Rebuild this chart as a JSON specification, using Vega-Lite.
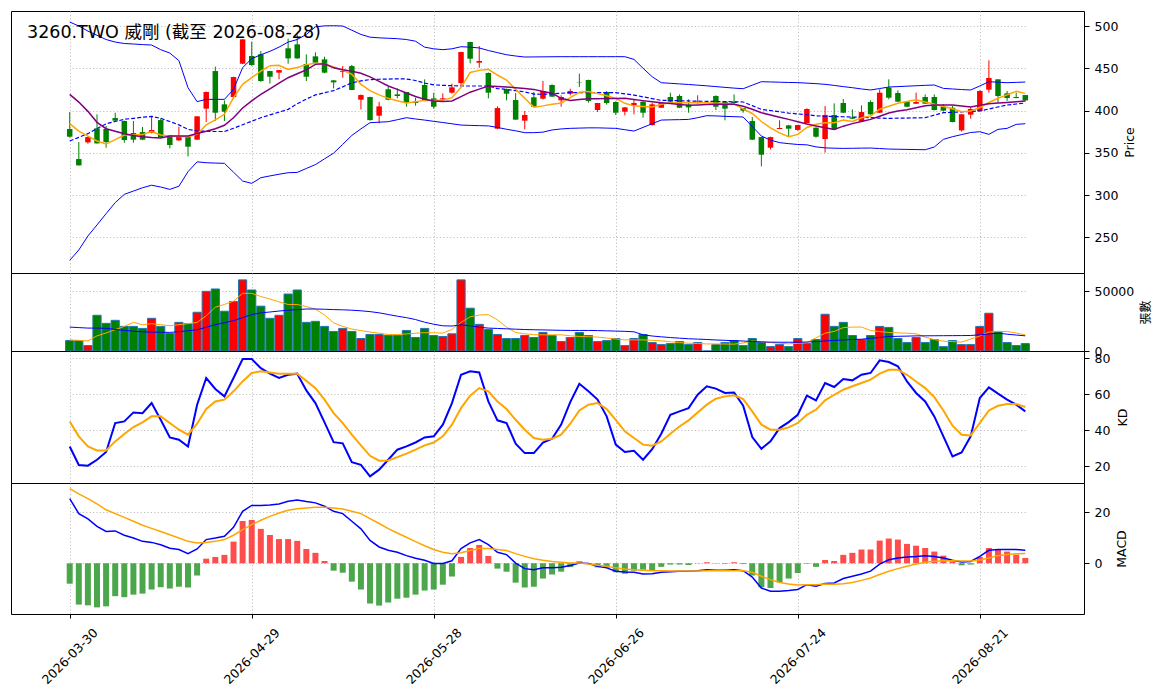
{
  "$schema": "https://vega.github.io/schema/vega-lite/v6.json",
  "padding": {"left": 10, "top": 10, "right": 0, "bottom": 0},
  "autosize": {"type": "pad"},
  "background": "white",
  "spacing": 0,
  "bounds": "flush",
  "datasets": {
    "stock": [
      {"d":"2026-03-30","o":378.1,"h":398.2,"l":368,"c":369,"v":8708,"m5":384.4,"m10":419.1,"m20":363.9,"up":504.7,"lo":222.7,"vm5":9270,"vm20":19944,"k":30.9,"dv":44.8,"hist":-8,"dif":25.4,"dea":29.3},
      {"d":"2026-03-31","o":342.6,"h":362.7,"l":335,"c":335.1,"v":8708,"m5":375.7,"m10":410,"m20":368.2,"up":500,"lo":235,"vm5":8850,"vm20":19500,"k":20.6,"dv":36.5,"hist":-16.2,"dif":19.5,"dea":27.2},
      {"d":"2026-04-01","o":362.3,"h":369,"l":360.7,"c":368.6,"v":4494,"m5":369.8,"m10":399,"m20":372.6,"up":494,"lo":251.5,"vm5":8427,"vm20":19101,"k":20.2,"dv":30.9,"hist":-16.5,"dif":17.4,"dea":25.4},
      {"d":"2026-04-02","o":378.9,"h":395.5,"l":361,"c":361.1,"v":29775,"m5":364,"m10":386,"m20":378.7,"up":489,"lo":264.6,"vm5":12640,"vm20":19101,"k":23.5,"dv":28.7,"hist":-17.3,"dif":14.5,"dea":23.3},
      {"d":"2026-04-07","o":378.1,"h":381.6,"l":356,"c":362.7,"v":23034,"m5":360.5,"m10":378.5,"m20":384.2,"up":484,"lo":278,"vm5":15000,"vm20":18900,"k":27.8,"dv":28.7,"hist":-16.9,"dif":12.5,"dea":21},
      {"d":"2026-04-08","o":391.1,"h":397.4,"l":386.8,"c":388,"v":25562,"m5":365.5,"m10":375.5,"m20":387,"up":481,"lo":291,"vm5":17800,"vm20":18000,"k":43.9,"dv":33.7,"hist":-12.9,"dif":12.7,"dea":19.5},
      {"d":"2026-04-09","o":387.6,"h":388,"l":361.9,"c":365.1,"v":20506,"m5":371,"m10":372.4,"m20":389.6,"up":479.3,"lo":300.8,"vm5":20506,"vm20":17135,"k":44.8,"dv":37.8,"hist":-13.3,"dif":11,"dea":18},
      {"d":"2026-04-10","o":373.4,"h":387.6,"l":361.9,"c":365.5,"v":20506,"m5":371,"m10":370.5,"m20":390.8,"up":478.7,"lo":304.7,"vm5":23877,"vm20":16500,"k":49.8,"dv":41.7,"hist":-12.3,"dif":9.9,"dea":16.5},
      {"d":"2026-04-13","o":374.5,"h":380.5,"l":365,"c":365.5,"v":18820,"m5":371.5,"m10":368.9,"m20":392,"up":478,"lo":308.6,"vm5":21910,"vm20":16000,"k":49.4,"dv":44.3,"hist":-11.9,"dif":8.6,"dea":14.9},
      {"d":"2026-04-14","o":373.4,"h":392.3,"l":373,"c":376.9,"v":27247,"m5":375,"m10":368,"m20":393.1,"up":477.5,"lo":311.6,"vm5":22753,"vm20":15700,"k":55,"dv":47.6,"hist":-10.3,"dif":8.2,"dea":13.7},
      {"d":"2026-04-15","o":388.7,"h":390.7,"l":368,"c":368.2,"v":20506,"m5":371,"m10":367.5,"m20":390.7,"up":472,"lo":309.5,"vm5":21910,"vm20":15600,"k":45.7,"dv":47.6,"hist":-9.4,"dif":7.3,"dea":12.5},
      {"d":"2026-04-16","o":370.6,"h":371,"l":355.2,"c":359.2,"v":14607,"m5":369.8,"m10":369.8,"m20":387,"up":468,"lo":306.7,"vm5":21068,"vm20":15500,"k":35.9,"dv":43.9,"hist":-9.9,"dif":5.9,"dea":11.2},
      {"d":"2026-04-17","o":364.7,"h":380.9,"l":364,"c":369.8,"v":23877,"m5":369.4,"m10":369.8,"m20":383,"up":459,"lo":310.4,"vm5":21910,"vm20":16100,"k":34.6,"dv":40.2,"hist":-9.2,"dif":5.4,"dea":9.9},
      {"d":"2026-04-20","o":368.6,"h":369,"l":345.7,"c":357.2,"v":22753,"m5":369,"m10":369.8,"m20":377.7,"up":427,"lo":327.6,"vm5":22753,"vm20":16854,"k":30.9,"dv":37.4,"hist":-9.5,"dif":3.8,"dea":8.6},
      {"d":"2026-04-21","o":365.5,"h":393.5,"l":365,"c":393.1,"v":32304,"m5":372,"m10":372.8,"m20":375.8,"up":410.5,"lo":339.3,"vm5":23877,"vm20":17700,"k":54.1,"dv":43.5,"hist":-4.8,"dif":5.6,"dea":8},
      {"d":"2026-04-22","o":402.2,"h":422.5,"l":386.4,"c":421.9,"v":49719,"m5":383,"m10":375.5,"m20":375.5,"up":413.2,"lo":338.2,"vm5":29300,"vm20":19800,"k":68.9,"dv":51.7,"hist":1.8,"dif":9.3,"dea":8.2},
      {"d":"2026-04-23","o":446.7,"h":451.9,"l":387.6,"c":397.4,"v":51686,"m5":389,"m10":378.5,"m20":375.2,"up":413.2,"lo":337.8,"vm5":36500,"vm20":21910,"k":62.8,"dv":55.9,"hist":2.5,"dif":9.9,"dea":8.6},
      {"d":"2026-04-24","o":407.3,"h":412,"l":387.6,"c":398.6,"v":33146,"m5":395.5,"m10":382.5,"m20":375.2,"up":413.2,"lo":337.5,"vm5":38764,"vm20":23600,"k":58.7,"dv":56.9,"hist":3.3,"dif":10.6,"dea":9.3},
      {"d":"2026-04-27","o":415.9,"h":440,"l":415,"c":439.6,"v":41292,"m5":415.2,"m10":391.5,"m20":379,"up":425,"lo":327,"vm5":41573,"vm20":25281,"k":68.9,"dv":61.5,"hist":8.5,"dif":14.1,"dea":11},
      {"d":"2026-04-28","o":455.4,"h":484.5,"l":455,"c":484.2,"v":59270,"m5":431,"m10":403,"m20":383.2,"up":450.7,"lo":316.6,"vm5":48034,"vm20":27800,"k":79.4,"dv":67,"hist":16.6,"dif":20.4,"dea":13.2},
      {"d":"2026-04-29","o":464.5,"h":481.5,"l":453,"c":453.8,"v":50843,"m5":438.8,"m10":411.5,"m20":387.3,"up":461.3,"lo":313.8,"vm5":48034,"vm20":30337,"k":79.4,"dv":71.7,"hist":17,"dif":22.7,"dea":15.2},
      {"d":"2026-04-30","o":466.5,"h":470.4,"l":434,"c":434.9,"v":37360,"m5":446.5,"m10":419.1,"m20":391.5,"up":466,"lo":320.5,"vm5":45400,"vm20":31800,"k":74.4,"dv":72.6,"hist":13.5,"dif":22.7,"dea":16.9},
      {"d":"2026-05-04","o":446.7,"h":447,"l":431.8,"c":440,"v":27247,"m5":453,"m10":425.7,"m20":394.8,"up":470,"lo":322.6,"vm5":43300,"vm20":32500,"k":71.3,"dv":72,"hist":11.1,"dif":22.9,"dea":18.4},
      {"d":"2026-05-05","o":444.8,"h":448,"l":436.9,"c":447.9,"v":29775,"m5":453.5,"m10":432.3,"m20":398.1,"up":475,"lo":324.6,"vm5":41000,"vm20":33300,"k":68.9,"dv":71.3,"hist":9.5,"dif":23.3,"dea":19.7},
      {"d":"2026-05-06","o":473.6,"h":485,"l":455.4,"c":461.7,"v":47472,"m5":448.7,"m10":438.8,"m20":401.4,"up":481,"lo":326.4,"vm5":38764,"vm20":33989,"k":70.7,"dv":71.3,"hist":9.5,"dif":24.3,"dea":20.8},
      {"d":"2026-05-07","o":478.3,"h":490,"l":461,"c":461.7,"v":50843,"m5":451,"m10":443.5,"m20":408,"up":484,"lo":326.8,"vm5":38764,"vm20":34500,"k":71.3,"dv":71.3,"hist":8.8,"dif":24.8,"dea":21.4},
      {"d":"2026-05-08","o":455,"h":466.5,"l":434.9,"c":440,"v":23877,"m5":454.3,"m10":448,"m20":413.5,"up":490,"lo":331.4,"vm5":37000,"vm20":35000,"k":62,"dv":67.3,"hist":5.6,"dif":24.2,"dea":21.7},
      {"d":"2026-05-11","o":464.1,"h":468.8,"l":455,"c":456.6,"v":24720,"m5":455.8,"m10":454.6,"m20":418.5,"up":499,"lo":336,"vm5":35000,"vm20":35000,"k":55,"dv":63.3,"hist":4.1,"dif":23.7,"dea":22},
      {"d":"2026-05-12","o":460.5,"h":463.7,"l":444,"c":444.8,"v":20506,"m5":455.4,"m10":455.4,"m20":421,"up":500.2,"lo":342.8,"vm5":30000,"vm20":34800,"k":44.3,"dv":56.9,"hist":0.9,"dif":22.4,"dea":22},
      {"d":"2026-05-13","o":435.7,"h":436,"l":426.2,"c":433.3,"v":16292,"m5":451.5,"m10":450.5,"m20":423.6,"up":500.3,"lo":349.6,"vm5":23500,"vm20":34500,"k":33.3,"dv":49.4,"hist":-2.9,"dif":20.4,"dea":21.7},
      {"d":"2026-05-14","o":445.5,"h":452.6,"l":438.8,"c":446.5,"v":18820,"m5":447.8,"m10":448.3,"m20":428,"up":500,"lo":360,"vm5":20500,"vm20":34300,"k":32.6,"dv":43.9,"hist":-3.7,"dif":19.5,"dea":21.3},
      {"d":"2026-05-15","o":452.6,"h":454,"l":424,"c":424.3,"v":16292,"m5":442.8,"m10":446.5,"m20":432.8,"up":495,"lo":370.5,"vm5":18300,"vm20":34000,"k":22.2,"dv":37.4,"hist":-7.2,"dif":16.5,"dea":20.4},
      {"d":"2026-05-18","o":412.8,"h":419,"l":401.4,"c":418.3,"v":10393,"m5":431,"m10":444,"m20":435,"up":490,"lo":378.3,"vm5":17000,"vm20":33500,"k":20.7,"dv":31.5,"hist":-10.3,"dif":13.5,"dea":19.5},
      {"d":"2026-05-19","o":416,"h":416.3,"l":388,"c":388.7,"v":13764,"m5":423.5,"m10":439.8,"m20":436.6,"up":486.8,"lo":385.6,"vm5":15800,"vm20":32800,"k":14.3,"dv":25.7,"hist":-15.8,"dif":9,"dea":17.5},
      {"d":"2026-05-20","o":393.9,"h":410.2,"l":384.8,"c":404.9,"v":13764,"m5":418.5,"m10":434.5,"m20":437,"up":486,"lo":386.2,"vm5":14800,"vm20":31800,"k":18,"dv":23,"hist":-16.6,"dif":6.4,"dea":15.6},
      {"d":"2026-05-21","o":425.1,"h":427.8,"l":412,"c":412.8,"v":12921,"m5":414.4,"m10":429,"m20":437.2,"up":485.5,"lo":386.8,"vm5":13700,"vm20":30400,"k":23.5,"dv":23.1,"hist":-15.4,"dif":5.1,"dea":13.6},
      {"d":"2026-05-22","o":419.1,"h":426.2,"l":414.4,"c":417.2,"v":12921,"m5":411.5,"m10":425,"m20":437.5,"up":485,"lo":389.1,"vm5":13700,"vm20":29000,"k":29.1,"dv":25,"hist":-13.9,"dif":4.3,"dea":11.9},
      {"d":"2026-05-25","o":421.9,"h":422,"l":404.5,"c":408.9,"v":17135,"m5":408.8,"m10":420.7,"m20":437.3,"up":484,"lo":391.5,"vm5":14200,"vm20":27800,"k":30.9,"dv":26.9,"hist":-13.5,"dif":3,"dea":10.2},
      {"d":"2026-05-26","o":410.5,"h":415.2,"l":405.7,"c":408.9,"v":11236,"m5":410.3,"m10":416.5,"m20":435.5,"up":482,"lo":390,"vm5":14800,"vm20":26200,"k":33.1,"dv":29.1,"hist":-12.3,"dif":2,"dea":8.5},
      {"d":"2026-05-27","o":430.2,"h":436.9,"l":411,"c":411.3,"v":18820,"m5":412,"m10":413.2,"m20":432.5,"up":475,"lo":388.7,"vm5":15300,"vm20":24000,"k":35.9,"dv":31.5,"hist":-10.7,"dif":1.2,"dea":6.9},
      {"d":"2026-05-28","o":414.4,"h":421.1,"l":402,"c":404.5,"v":12921,"m5":412,"m10":411.4,"m20":430.3,"up":473,"lo":387.2,"vm5":15200,"vm20":22300,"k":36.5,"dv":33.1,"hist":-10.3,"dif":-0.1,"dea":5.4},
      {"d":"2026-05-29","o":412.8,"h":420.3,"l":411,"c":414.4,"v":12079,"m5":412.3,"m10":410.7,"m20":429.8,"up":472,"lo":385.8,"vm5":14900,"vm20":21000,"k":43,"dv":36.5,"hist":-8.4,"dif":-0.1,"dea":4.3},
      {"d":"2026-06-01","o":421.1,"h":431.8,"l":420,"c":427.4,"v":14326,"m5":415.2,"m10":411.3,"m20":429.4,"up":473,"lo":384.3,"vm5":18000,"vm20":20800,"k":55,"dv":43,"hist":-5.2,"dif":1,"dea":3.7},
      {"d":"2026-06-02","o":432.5,"h":469.5,"l":430,"c":469.2,"v":59270,"m5":427.5,"m10":416.5,"m20":429,"up":475.5,"lo":382.8,"vm5":23877,"vm20":21800,"k":70.7,"dv":52.2,"hist":2.5,"dif":5.8,"dea":4.1},
      {"d":"2026-06-03","o":481.1,"h":481.5,"l":455.8,"c":461.3,"v":35674,"m5":445,"m10":421.7,"m20":429,"up":475,"lo":382.4,"vm5":28500,"vm20":21000,"k":72.6,"dv":59.1,"hist":6,"dif":8,"dea":5},
      {"d":"2026-06-04","o":456.6,"h":476.3,"l":450.7,"c":458.6,"v":22191,"m5":447.5,"m10":425.3,"m20":429,"up":474,"lo":382.1,"vm5":30000,"vm20":19800,"k":72,"dv":63.3,"hist":7.2,"dif":9.3,"dea":5.8},
      {"d":"2026-06-05","o":444.4,"h":445,"l":414.4,"c":421.1,"v":17978,"m5":448.7,"m10":429,"m20":429,"up":471,"lo":381.8,"vm5":30300,"vm20":19101,"k":55.9,"dv":61.5,"hist":2.9,"dif":7.3,"dea":5.8},
      {"d":"2026-06-08","o":378.5,"h":404.9,"l":378,"c":402.9,"v":13764,"m5":442,"m10":428.5,"m20":426,"up":468.5,"lo":380,"vm5":26000,"vm20":18800,"k":45.4,"dv":55.9,"hist":-2.1,"dif":4.3,"dea":5.4},
      {"d":"2026-06-09","o":425.1,"h":426,"l":412,"c":419.9,"v":10393,"m5":436,"m10":427.9,"m20":425,"up":466,"lo":377.8,"vm5":19900,"vm20":18500,"k":43.9,"dv":51.7,"hist":-3.3,"dif":3.4,"dea":5},
      {"d":"2026-06-10","o":412.4,"h":420.7,"l":389,"c":389.2,"v":10393,"m5":425.1,"m10":426.9,"m20":423.5,"up":464.5,"lo":376,"vm5":15400,"vm20":18200,"k":32.4,"dv":45.7,"hist":-7.6,"dif":0.1,"dea":3.8},
      {"d":"2026-06-11","o":388,"h":399.4,"l":377.7,"c":394.7,"v":12921,"m5":414.5,"m10":426,"m20":422,"up":463.3,"lo":373.8,"vm5":14300,"vm20":17900,"k":27.2,"dv":40.2,"hist":-9.5,"dif":-2.1,"dea":2.7},
      {"d":"2026-06-12","o":415.6,"h":421.9,"l":404,"c":404.5,"v":11236,"m5":404,"m10":425,"m20":419.5,"up":463.4,"lo":373.8,"vm5":13600,"vm20":17700,"k":27.2,"dv":35.6,"hist":-9.2,"dif":-2.5,"dea":1.8},
      {"d":"2026-06-15","o":414,"h":434.9,"l":413,"c":423.1,"v":15450,"m5":405.5,"m10":422.5,"m20":419.2,"up":463.5,"lo":374.4,"vm5":13500,"vm20":17550,"k":33.1,"dv":34.6,"hist":-6,"dif":-1.8,"dea":1.2},
      {"d":"2026-06-16","o":430.2,"h":431,"l":416,"c":416.4,"v":12921,"m5":407.3,"m10":420.5,"m20":419.8,"up":463.6,"lo":377,"vm5":13483,"vm20":17400,"k":35.2,"dv":35.2,"hist":-4.4,"dif":-1.8,"dea":0.7},
      {"d":"2026-06-17","o":412,"h":418,"l":404.5,"c":416,"v":7865,"m5":409,"m10":414.4,"m20":420.4,"up":463.7,"lo":378.2,"vm5":13483,"vm20":17250,"k":43,"dv":37.4,"hist":-3.3,"dif":-1.6,"dea":0.4},
      {"d":"2026-06-18","o":419.9,"h":425.8,"l":418,"c":423.1,"v":11236,"m5":415.2,"m10":412,"m20":421.1,"up":463.7,"lo":378.9,"vm5":12700,"vm20":17135,"k":55.5,"dv":43.5,"hist":-1.5,"dif":-0.9,"dea":0.1},
      {"d":"2026-06-22","o":433.7,"h":443.6,"l":427.8,"c":433.3,"v":15450,"m5":421.5,"m10":413,"m20":421.1,"up":463.7,"lo":379.2,"vm5":12100,"vm20":17135,"k":65.7,"dv":50.9,"hist":0.8,"dif":0.1,"dea":0.1},
      {"d":"2026-06-23","o":436.1,"h":436.5,"l":409.3,"c":411.3,"v":12921,"m5":422.5,"m10":413.8,"m20":421.1,"up":463.7,"lo":379.5,"vm5":11900,"vm20":17135,"k":61.5,"dv":54.1,"hist":-0.3,"dif":-0.1,"dea":-0.3},
      {"d":"2026-06-24","o":400.6,"h":409,"l":398.2,"c":408.9,"v":7865,"m5":420,"m10":414,"m20":421.1,"up":463.7,"lo":379.5,"vm5":11600,"vm20":17000,"k":56.9,"dv":55,"hist":-1.6,"dif":-1.2,"dea":-0.8},
      {"d":"2026-06-25","o":421.9,"h":423,"l":407,"c":408.9,"v":8708,"m5":417.5,"m10":414.2,"m20":421.1,"up":463.7,"lo":379.2,"vm5":10800,"vm20":16800,"k":47.6,"dv":51.7,"hist":-1.8,"dif":-1.8,"dea":-1.2},
      {"d":"2026-06-26","o":410.1,"h":411,"l":394.7,"c":397.4,"v":10393,"m5":414.4,"m10":414.3,"m20":421.1,"up":463.7,"lo":378.9,"vm5":10000,"vm20":16600,"k":31.9,"dv":45.7,"hist":-3.5,"dif":-3.1,"dea":-1.8},
      {"d":"2026-06-29","o":398.6,"h":404,"l":394.3,"c":403.7,"v":4494,"m5":408.5,"m10":414.4,"m20":419.7,"up":463.7,"lo":377.3,"vm5":9270,"vm20":16400,"k":27.8,"dv":39.3,"hist":-4.1,"dif":-3.4,"dea":-2.2},
      {"d":"2026-06-30","o":406.5,"h":413.2,"l":395.5,"c":408.9,"v":10393,"m5":405.5,"m10":413,"m20":418.3,"up":460.5,"lo":375.7,"vm5":9270,"vm20":16000,"k":28.5,"dv":35.6,"hist":-2.9,"dif":-3.5,"dea":-2.5},
      {"d":"2026-07-01","o":410.5,"h":411,"l":391.5,"c":397.4,"v":13764,"m5":404.8,"m10":411.7,"m20":416.2,"up":450,"lo":380,"vm5":9270,"vm20":13500,"k":23.5,"dv":31.9,"hist":-2.5,"dif":-4.2,"dea":-2.7},
      {"d":"2026-07-02","o":382.8,"h":409,"l":382,"c":407.3,"v":7022,"m5":404.1,"m10":410.5,"m20":414.1,"up":440,"lo":384.4,"vm5":8900,"vm20":12500,"k":29.4,"dv":31.3,"hist":-2.7,"dif":-4.1,"dea":-2.9},
      {"d":"2026-07-03","o":403.3,"h":410,"l":403,"c":409.3,"v":5337,"m5":407.5,"m10":409.3,"m20":412,"up":432.9,"lo":388.7,"vm5":8500,"vm20":11800,"k":38,"dv":33.7,"hist":-1.4,"dif":-3.5,"dea":-2.9},
      {"d":"2026-07-06","o":416,"h":421.1,"l":410,"c":410.5,"v":6180,"m5":409.3,"m10":408.2,"m20":411.8,"up":432.2,"lo":389,"vm5":7700,"vm20":11200,"k":48.5,"dv":38,"hist":-0.5,"dif":-3.3,"dea":-3},
      {"d":"2026-07-07","o":417.2,"h":419.1,"l":403,"c":403.3,"v":7865,"m5":409.3,"m10":407.2,"m20":411.6,"up":431.5,"lo":389.2,"vm5":7000,"vm20":10700,"k":50.4,"dv":42,"hist":-0.5,"dif":-3.1,"dea":-3},
      {"d":"2026-07-08","o":406.9,"h":413.2,"l":397.4,"c":403.7,"v":5337,"m5":409.3,"m10":406.1,"m20":411.3,"up":430.8,"lo":389.5,"vm5":6500,"vm20":10200,"k":52.2,"dv":45.4,"hist":-0.7,"dif":-3.1,"dea":-3},
      {"d":"2026-07-09","o":408.9,"h":418,"l":408,"c":410.5,"v":7022,"m5":409.3,"m10":406.6,"m20":411.1,"up":430,"lo":391.5,"vm5":6200,"vm20":9900,"k":59.6,"dv":49.8,"hist":0.1,"dif":-2.9,"dea":-3},
      {"d":"2026-07-10","o":410.5,"h":410.5,"l":410.5,"c":410.5,"v":0,"m5":409.3,"m10":407.1,"m20":410.9,"up":429.2,"lo":393.9,"vm5":5900,"vm20":9600,"k":64.3,"dv":54.1,"hist":0.4,"dif":-2.5,"dea":-2.9},
      {"d":"2026-07-13","o":417.2,"h":418,"l":400.6,"c":404.5,"v":5337,"m5":408.7,"m10":407.3,"m20":410.7,"up":428.3,"lo":393.6,"vm5":5899,"vm20":9200,"k":63,"dv":57.4,"hist":-0.1,"dif":-2.7,"dea":-2.9},
      {"d":"2026-07-14","o":410.5,"h":411,"l":388.4,"c":402.2,"v":7022,"m5":408.2,"m10":407.3,"m20":410.5,"up":427.4,"lo":393.1,"vm5":5800,"vm20":8900,"k":60.6,"dv":58.7,"hist":-0.2,"dif":-2.7,"dea":-2.9},
      {"d":"2026-07-15","o":410.5,"h":419.1,"l":408,"c":408.9,"v":8708,"m5":407.6,"m10":407.3,"m20":410.3,"up":426.5,"lo":392.7,"vm5":5700,"vm20":8600,"k":60.9,"dv":59.3,"hist":0.4,"dif":-2.5,"dea":-2.9},
      {"d":"2026-07-16","o":402.9,"h":403,"l":397.4,"c":399.8,"v":4494,"m5":402,"m10":405,"m20":410.1,"up":425.8,"lo":392.3,"vm5":6700,"vm20":8300,"k":53.5,"dv":57.2,"hist":-0.3,"dif":-2.9,"dea":-2.9},
      {"d":"2026-07-17","o":387.6,"h":392.3,"l":365,"c":365.5,"v":10393,"m5":396.5,"m10":401.5,"m20":405.8,"up":430,"lo":381,"vm5":8300,"vm20":7900,"k":36.1,"dv":50.4,"hist":-4.8,"dif":-5.4,"dea":-3.5},
      {"d":"2026-07-20","o":368.6,"h":369,"l":333.9,"c":347.7,"v":7022,"m5":387,"m10":397.4,"m20":401.4,"up":434.1,"lo":369.8,"vm5":7700,"vm20":7600,"k":29.6,"dv":43,"hist":-9.4,"dif":-9.7,"dea":-5.1},
      {"d":"2026-07-21","o":356,"h":369,"l":354,"c":368.6,"v":3652,"m5":379.5,"m10":394.8,"m20":400,"up":433.8,"lo":365,"vm5":7022,"vm20":7350,"k":33.7,"dv":40.2,"hist":-9.7,"dif":-11,"dea":-6.4},
      {"d":"2026-07-22","o":378.1,"h":388.4,"l":378,"c":379.3,"v":5337,"m5":373.5,"m10":392.1,"m20":398.5,"up":433.5,"lo":362,"vm5":6500,"vm20":7300,"k":41.1,"dv":40.2,"hist":-7.5,"dif":-11,"dea":-7.5},
      {"d":"2026-07-23","o":382.4,"h":383,"l":369.4,"c":378.5,"v":3652,"m5":369,"m10":389.5,"m20":397,"up":433.2,"lo":360.8,"vm5":5950,"vm20":7300,"k":44.4,"dv":41.5,"hist":-6,"dif":-10.7,"dea":-8.1},
      {"d":"2026-07-24","o":377,"h":383,"l":376,"c":382.8,"v":10393,"m5":371.8,"m10":386.8,"m20":396,"up":433,"lo":359.8,"vm5":6400,"vm20":7300,"k":48.5,"dv":43.9,"hist":-3.8,"dif":-10.3,"dea":-8.5},
      {"d":"2026-07-27","o":385.2,"h":402.6,"l":385,"c":401.8,"v":6180,"m5":380,"m10":384,"m20":395,"up":432.4,"lo":359.4,"vm5":7000,"vm20":7500,"k":59.1,"dv":48.5,"hist":-0.2,"dif":-8.4,"dea":-8.4},
      {"d":"2026-07-28","o":379.7,"h":380,"l":367.8,"c":369,"v":9551,"m5":383.8,"m10":381.7,"m20":393.8,"up":431.8,"lo":357,"vm5":11000,"vm20":7800,"k":56.5,"dv":51.3,"hist":-1.4,"dif":-9,"dea":-8.4},
      {"d":"2026-07-29","o":366.3,"h":405.3,"l":350.1,"c":394.7,"v":30618,"m5":385.6,"m10":379.5,"m20":393.2,"up":431,"lo":355.8,"vm5":14888,"vm20":8400,"k":66.1,"dv":56.5,"hist":1.3,"dif":-7.9,"dea":-8.1},
      {"d":"2026-07-30","o":394.7,"h":408.5,"l":377,"c":377.7,"v":20506,"m5":385.6,"m10":377.7,"m20":392.9,"up":429.7,"lo":355.4,"vm5":16292,"vm20":8800,"k":63.9,"dv":59.6,"hist":0.9,"dif":-7.7,"dea":-8.2},
      {"d":"2026-07-31","o":408.9,"h":413.6,"l":397,"c":397.4,"v":23877,"m5":388.7,"m10":381.5,"m20":392.6,"up":428.3,"lo":355.2,"vm5":19500,"vm20":9200,"k":68.3,"dv":62.4,"hist":3.3,"dif":-6,"dea":-8},
      {"d":"2026-08-03","o":391.9,"h":401.4,"l":390,"c":390.3,"v":12921,"m5":387,"m10":384.5,"m20":392.3,"up":427,"lo":355.3,"vm5":19944,"vm20":9600,"k":67.6,"dv":64.3,"hist":4.1,"dif":-5.1,"dea":-7.5},
      {"d":"2026-08-04","o":387.6,"h":406.1,"l":387,"c":398.2,"v":9551,"m5":391.5,"m10":387,"m20":391.9,"up":425.5,"lo":355.5,"vm5":19944,"vm20":9832,"k":70.7,"dv":66.1,"hist":5.4,"dif":-4.2,"dea":-6.7},
      {"d":"2026-08-05","o":410.1,"h":412,"l":395,"c":395.5,"v":12921,"m5":393.5,"m10":389.5,"m20":391.5,"up":424.3,"lo":355.6,"vm5":17100,"vm20":10600,"k":71.7,"dv":68,"hist":5.4,"dif":-3.1,"dea":-5.8},
      {"d":"2026-08-06","o":397.4,"h":425,"l":397,"c":421.1,"v":20506,"m5":401.5,"m10":393.3,"m20":391.1,"up":426,"lo":355,"vm5":16200,"vm20":11300,"k":78.7,"dv":71.3,"hist":8.9,"dif":-0.3,"dea":-4.4},
      {"d":"2026-08-07","o":427,"h":436.9,"l":413.2,"c":415.2,"v":19663,"m5":405,"m10":397,"m20":390.7,"up":427.8,"lo":354.4,"vm5":15450,"vm20":12079,"k":77.8,"dv":73.5,"hist":9.7,"dif":1.4,"dea":-3.1},
      {"d":"2026-08-10","o":420.7,"h":423.9,"l":410,"c":410.5,"v":10393,"m5":408.5,"m10":399.4,"m20":390.9,"up":428.3,"lo":354.2,"vm5":15100,"vm20":12250,"k":75.4,"dv":73.5,"hist":9.3,"dif":2.1,"dea":-2.1},
      {"d":"2026-08-11","o":410.5,"h":411,"l":404,"c":404.5,"v":7022,"m5":410.7,"m10":401,"m20":391.1,"up":428.8,"lo":354,"vm5":14800,"vm20":12400,"k":67,"dv":70.7,"hist":7.6,"dif":2.5,"dea":-1.2},
      {"d":"2026-08-12","o":408,"h":421.1,"l":408,"c":410.1,"v":11236,"m5":412.8,"m10":403.3,"m20":391.3,"up":429.3,"lo":353.8,"vm5":14400,"vm20":12600,"k":60.6,"dv":67,"hist":6.9,"dif":2.7,"dea":-0.3},
      {"d":"2026-08-13","o":416,"h":419.1,"l":408,"c":408.1,"v":7022,"m5":410,"m10":405.6,"m20":391.5,"up":429.8,"lo":353.6,"vm5":11500,"vm20":12650,"k":55.9,"dv":63.3,"hist":6,"dif":3,"dea":0.4},
      {"d":"2026-08-14","o":416,"h":419.1,"l":400,"c":400.6,"v":9551,"m5":407.3,"m10":406.5,"m20":394.5,"up":430.2,"lo":356.8,"vm5":9500,"vm20":12700,"k":47.6,"dv":58.3,"hist":4.6,"dif":2.7,"dea":0.8},
      {"d":"2026-08-17","o":404.5,"h":407.7,"l":399,"c":399.8,"v":3652,"m5":404.8,"m10":406.5,"m20":397.4,"up":426.2,"lo":365.9,"vm5":8200,"vm20":12750,"k":36.5,"dv":50.9,"hist":3,"dif":2.1,"dea":1},
      {"d":"2026-08-18","o":403.3,"h":405.3,"l":386,"c":386.4,"v":8708,"m5":402.2,"m10":406.5,"m20":397.9,"up":425.5,"lo":369,"vm5":7800,"vm20":12800,"k":25.4,"dv":42.4,"hist":0.8,"dif":1.2,"dea":1},
      {"d":"2026-08-19","o":376.5,"h":396,"l":375,"c":395.5,"v":5337,"m5":398.6,"m10":405.4,"m20":398.4,"up":424.8,"lo":371.5,"vm5":7400,"vm20":12850,"k":27.6,"dv":37.4,"hist":-0.8,"dif":0.5,"dea":0.9},
      {"d":"2026-08-20","o":395.1,"h":403.7,"l":390.3,"c":401.8,"v":5337,"m5":399.5,"m10":404.1,"m20":398.9,"up":424.3,"lo":374,"vm5":10000,"vm20":12921,"k":36.5,"dv":37,"hist":-0.5,"dif":0.7,"dea":0.9},
      {"d":"2026-08-21","o":399.4,"h":423.9,"l":399,"c":423.1,"v":20506,"m5":403.5,"m10":406.1,"m20":399.4,"up":429,"lo":374.9,"vm5":12500,"vm20":13500,"k":57.8,"dv":43.9,"hist":2.5,"dif":2.7,"dea":1.3},
      {"d":"2026-08-24","o":424.7,"h":459.4,"l":421.1,"c":438.5,"v":31461,"m5":409.5,"m10":408.1,"m20":401.8,"up":434.1,"lo":371.8,"vm5":15800,"vm20":14200,"k":63.7,"dv":50.9,"hist":6,"dif":5.1,"dea":2.1},
      {"d":"2026-08-25","o":436.9,"h":437,"l":409.3,"c":417.2,"v":16292,"m5":414.5,"m10":408.9,"m20":404.2,"up":433.5,"lo":377.7,"vm5":16292,"vm20":14888,"k":60.2,"dv":53.5,"hist":5.6,"dif":5.4,"dea":3},
      {"d":"2026-08-26","o":420.3,"h":423.1,"l":411.3,"c":414.8,"v":7022,"m5":418.5,"m10":409.6,"m20":406.5,"up":432.9,"lo":378.9,"vm5":16292,"vm20":14000,"k":56.9,"dv":54.4,"hist":4.6,"dif":5.4,"dea":3.4},
      {"d":"2026-08-27","o":416,"h":421.1,"l":414.4,"c":414.8,"v":4494,"m5":422.7,"m10":410.4,"m20":407.7,"up":433.3,"lo":383.6,"vm5":15000,"vm20":13300,"k":54.1,"dv":54.4,"hist":3.4,"dif":5.4,"dea":3.7},
      {"d":"2026-08-28","o":418.3,"h":418.5,"l":411,"c":412,"v":6180,"m5":420.3,"m10":411.2,"m20":408.9,"up":433.7,"lo":384.4,"vm5":13483,"vm20":12640,"k":50.4,"dv":52.8,"hist":2.1,"dif":5.1,"dea":3.8}
    ]
  },
  "data": {"name": "stock"},
  "vconcat": [
    {
      "width": 1073,
      "height": 262,
      "title": {
        "text": "3260.TWO 威剛 (截至 2026-08-28)",
        "anchor": "start",
        "frame": "group",
        "orient": "top",
        "offset": -44,
        "dx": 16,
        "baseline": "alphabetic",
        "font": "DejaVu Sans, Noto Sans CJK TC",
        "fontSize": 17.5,
        "fontWeight": "normal",
        "color": "black"
      },
      "encoding": {
        "x": {
          "field": "d", "type": "ordinal",
          "scale": {"type": "point", "range": [58.7, 1014.3], "padding": 0},
          "axis": {"values": ["2026-03-30", "2026-04-29", "2026-05-28", "2026-06-26", "2026-07-24", "2026-08-21"], "labels": false, "ticks": false, "domain": false, "grid": true, "title": null}
        }
      },
      "layer": [
        {
          "mark": {"type": "rule", "strokeWidth": 1},
          "encoding": {
            "y": {
              "field": "l", "type": "quantitative",
              "scale": {"domain": [207.75, 517.75], "nice": false, "zero": false},
              "axis": {"orient": "right", "values": [250, 300, 350, 400, 450, 500], "title": "Price", "titleAngle": 270, "titleBaseline": "top", "titlePadding": 6, "grid": true}
            },
            "y2": {"field": "h"},
            "color": {"condition": {"test": "datum.c >= datum.o", "value": "#ff0000"}, "value": "#008000"}
          }
        },
        {
          "mark": {"type": "bar", "size": 5.5},
          "encoding": {
            "y": {"field": "o", "type": "quantitative", "scale": {"domain": [207.75, 517.75], "nice": false, "zero": false}},
            "y2": {"field": "c"},
            "color": {"condition": {"test": "datum.c >= datum.o", "value": "#ff0000"}, "value": "#008000"}
          }
        },
        {
          "mark": {"type": "line", "color": "#0000ff", "strokeWidth": 1},
          "encoding": {"y": {"field": "up", "type": "quantitative", "scale": {"domain": [207.75, 517.75], "nice": false, "zero": false}}}
        },
        {
          "mark": {"type": "line", "color": "#0000ff", "strokeWidth": 1},
          "encoding": {"y": {"field": "lo", "type": "quantitative", "scale": {"domain": [207.75, 517.75], "nice": false, "zero": false}}}
        },
        {
          "mark": {"type": "line", "color": "#0000ff", "strokeWidth": 1.2, "strokeDash": [4, 2]},
          "encoding": {"y": {"field": "m20", "type": "quantitative", "scale": {"domain": [207.75, 517.75], "nice": false, "zero": false}}}
        },
        {
          "mark": {"type": "line", "color": "#ffa500", "strokeWidth": 1.5},
          "encoding": {"y": {"field": "m5", "type": "quantitative", "scale": {"domain": [207.75, 517.75], "nice": false, "zero": false}}}
        },
        {
          "mark": {"type": "line", "color": "#800080", "strokeWidth": 1.5},
          "encoding": {"y": {"field": "m10", "type": "quantitative", "scale": {"domain": [207.75, 517.75], "nice": false, "zero": false}}}
        }
      ]
    },
    {
      "width": 1073,
      "height": 78,
      "encoding": {
        "x": {
          "field": "d", "type": "ordinal",
          "scale": {"type": "point", "range": [58.7, 1014.3], "padding": 0},
          "axis": {"values": ["2026-03-30", "2026-04-29", "2026-05-28", "2026-06-26", "2026-07-24", "2026-08-21"], "labels": false, "ticks": false, "domain": false, "grid": true, "title": null}
        }
      },
      "layer": [
        {
          "mark": {"type": "bar", "size": 8.2, "stroke": "#1f77b4", "strokeWidth": 1},
          "encoding": {
            "y": {
              "field": "v", "type": "quantitative",
              "scale": {"domain": [0, 65000], "nice": false},
              "axis": {"orient": "right", "values": [0, 50000], "format": "d", "title": "張數", "titleFont": "Noto Sans CJK TC", "titleFontSize": 12, "titleAngle": 270, "titleBaseline": "top", "titlePadding": 7, "grid": true}
            },
            "y2": {"datum": 0},
            "color": {"condition": {"test": "datum.c >= datum.o", "value": "#ff0000"}, "value": "#008000"}
          }
        },
        {
          "mark": {"type": "line", "color": "#ffa500", "strokeWidth": 1},
          "encoding": {"y": {"field": "vm5", "type": "quantitative", "scale": {"domain": [0, 65000], "nice": false}}}
        },
        {
          "mark": {"type": "line", "color": "#0000ff", "strokeWidth": 1},
          "encoding": {"y": {"field": "vm20", "type": "quantitative", "scale": {"domain": [0, 65000], "nice": false}}}
        }
      ]
    },
    {
      "width": 1073,
      "height": 132,
      "encoding": {
        "x": {
          "field": "d", "type": "ordinal",
          "scale": {"type": "point", "range": [58.7, 1014.3], "padding": 0},
          "axis": {"values": ["2026-03-30", "2026-04-29", "2026-05-28", "2026-06-26", "2026-07-24", "2026-08-21"], "labels": false, "ticks": false, "domain": false, "grid": true, "title": null}
        }
      },
      "layer": [
        {
          "mark": {"type": "line", "color": "#0000ff", "strokeWidth": 2},
          "encoding": {
            "y": {
              "field": "k", "type": "quantitative",
              "scale": {"domain": [10.6, 83.9], "nice": false, "zero": false},
              "axis": {"orient": "right", "values": [20, 40, 60, 80], "title": "KD", "titleAngle": 270, "titleBaseline": "top", "titlePadding": 7, "grid": true}
            }
          }
        },
        {
          "mark": {"type": "line", "color": "#ffa500", "strokeWidth": 2},
          "encoding": {"y": {"field": "dv", "type": "quantitative", "scale": {"domain": [10.6, 83.9], "nice": false, "zero": false}}}
        }
      ]
    },
    {
      "width": 1073,
      "height": 131,
      "encoding": {
        "x": {
          "field": "d", "type": "ordinal",
          "scale": {"type": "point", "range": [58.7, 1014.3], "padding": 0},
          "axis": {"values": ["2026-03-30", "2026-04-29", "2026-05-28", "2026-06-26", "2026-07-24", "2026-08-21"], "labelAngle": -45, "labelAlign": "center", "labelBaseline": "middle", "labelPadding": 38, "tickSize": 4, "domain": false, "grid": true, "title": null}
        }
      },
      "layer": [
        {
          "mark": {"type": "bar", "size": 6, "opacity": 0.7},
          "encoding": {
            "y": {
              "field": "hist", "type": "quantitative",
              "scale": {"domain": [-19.9, 31.5], "nice": false, "zero": false},
              "axis": {"orient": "right", "values": [0, 20], "title": "MACD", "titleAngle": 270, "titleBaseline": "top", "titlePadding": 6, "grid": true}
            },
            "y2": {"datum": 0},
            "color": {"condition": {"test": "datum.hist >= 0", "value": "#ff0000"}, "value": "#008000"}
          }
        },
        {
          "mark": {"type": "line", "color": "#0000ff", "strokeWidth": 1.5},
          "encoding": {"y": {"field": "dif", "type": "quantitative", "scale": {"domain": [-19.9, 31.5], "nice": false, "zero": false}}}
        },
        {
          "mark": {"type": "line", "color": "#ffa500", "strokeWidth": 1.5},
          "encoding": {"y": {"field": "dea", "type": "quantitative", "scale": {"domain": [-19.9, 31.5], "nice": false, "zero": false}}}
        }
      ]
    }
  ],
  "config": {
    "view": {"stroke": "black", "strokeWidth": 1},
    "font": "DejaVu Sans",
    "axis": {
      "labelFont": "DejaVu Sans",
      "labelFontSize": 12.5,
      "labelColor": "black",
      "tickColor": "black",
      "tickSize": 5,
      "labelPadding": 5,
      "gridColor": "#b0b0b0",
      "gridDash": [1.2, 2.2],
      "gridWidth": 0.8,
      "gridOpacity": 1,
      "domain": false,
      "titleFont": "DejaVu Sans",
      "titleFontSize": 12.5,
      "titleFontWeight": "normal",
      "titleColor": "black"
    }
  }
}
